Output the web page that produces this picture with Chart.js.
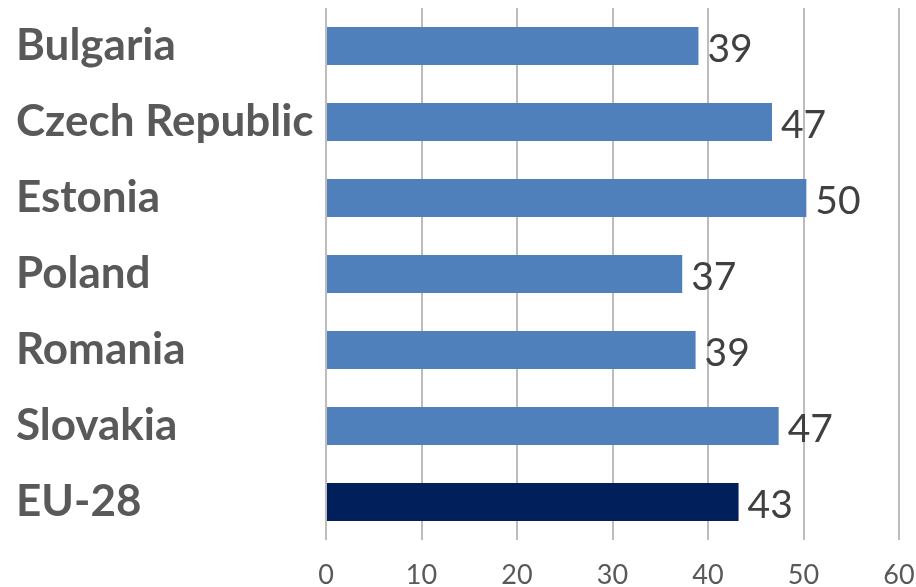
<!DOCTYPE html>
<html>
<head>
<meta charset="utf-8">
<script src="https://cdn.jsdelivr.net/npm/chart.js@4/dist/chart.umd.min.js"></script>
<style>
html,body{margin:0;padding:0;background:#fff;}
#wrap{width:916px;height:587px;position:relative;}
</style>
</head>
<body>
<div id="wrap"><canvas id="c" width="916" height="587"></canvas></div>
<script>
const categories = ['Bulgaria', 'Czech Republic', 'Estonia', 'Poland', 'Romania', 'Slovakia', 'EU-28'];
const values = [39.0, 46.7, 50.3, 37.3, 38.7, 47.4, 43.2];
const barColors = ['#4F80BC', '#4F80BC', '#4F80BC', '#4F80BC', '#4F80BC', '#4F80BC', '#001F5B'];
const xTicks = [0, 10, 20, 30, 40, 50, 60];

const valueLabels = {
  id: 'valueLabels',
  afterDatasetsDraw(chart) {
    const ctx = chart.ctx;
    const meta = chart.getDatasetMeta(0);
    ctx.save();
    ctx.font = '39px Lato';
    ctx.fillStyle = '#404040';
    ctx.textAlign = 'left';
    ctx.textBaseline = 'middle';
    meta.data.forEach((bar, i) => {
      ctx.fillText(String(Math.round(values[i])), bar.x + 9, bar.y + 3);
    });
    ctx.restore();
  }
};

new Chart(document.getElementById('c'), {
  type: 'bar',
  data: {
    labels: categories,
    datasets: [{
      data: values,
      backgroundColor: barColors,
      borderWidth: 0,
      barPercentage: 0.5,
      categoryPercentage: 1.0
    }]
  },
  options: {
    indexAxis: 'y',
    responsive: false,
    animation: false,
    devicePixelRatio: 1,
    layout: { padding: { left: 16, right: 17, top: 8, bottom: 0 } },
    plugins: { legend: { display: false }, tooltip: { enabled: false } },
    scales: {
      x: {
        min: 0, max: 60,
        afterBuildTicks(scale) { scale.ticks = xTicks.map(v => ({ value: v })); },
        afterFit(scale) { scale.height = 47; scale.paddingRight = 0; scale.paddingLeft = 0; },
        grid: { color: '#BDBDBD', lineWidth: 2, drawTicks: false },
        border: { display: false },
        ticks: { padding: 19, color: '#595959', font: { family: 'Lato', size: 27 } }
      },
      y: {
        afterFit(scale) { scale.width = 310; scale.paddingTop = 0; scale.paddingBottom = 0; },
        grid: { display: false },
        border: { display: false },
        ticks: { crossAlign: 'far', color: '#595959', font: { family: 'Lato', size: 44, weight: 'bold', lineHeight: 0.4 } }
      }
    }
  },
  plugins: [valueLabels]
});
</script>
</body>
</html>
